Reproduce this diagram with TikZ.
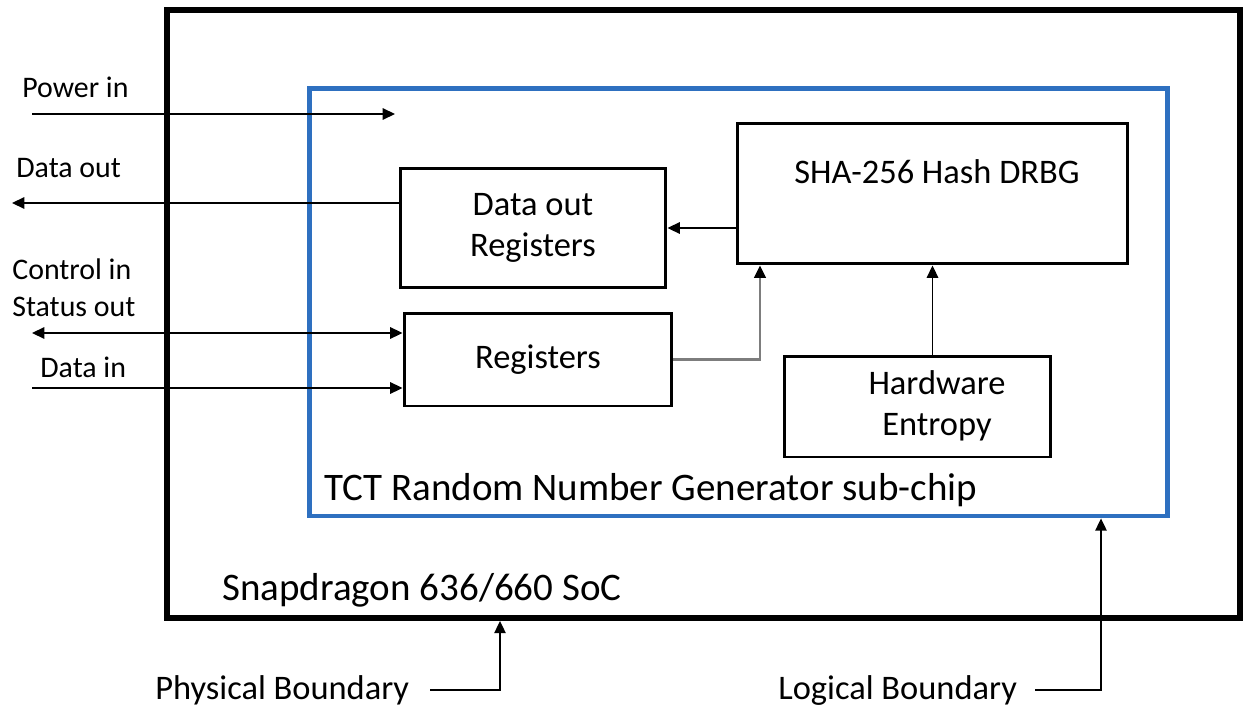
\documentclass[tikz,border=0pt]{standalone}
\usepackage{fontspec}
\setmainfont{Carlito}
\usetikzlibrary{arrows.meta}
\definecolor{chipblue}{RGB}{46,112,192}
\definecolor{linkgray}{RGB}{125,125,125}
\begin{document}
\begin{tikzpicture}
    [%%%%%%%%%%%%%%%%%%%%%%%%%%%%%%
        x=0.02cm, y=-0.02cm,
        box/.style={rectangle,draw=black,line width=1.7pt,inner sep=0pt,align=center,font=\fontsize{19.6}{23}\selectfont},
        txt/.style={inner sep=0pt,align=center,font=\fontsize{19.6}{23}\selectfont},
        lbl/.style={inner sep=0pt,anchor=base west,align=left,font=\fontsize{17}{21}\selectfont},
        big/.style={inner sep=0pt,anchor=base west,font=\fontsize{22.2}{26}\selectfont},
        sig/.style={draw=black,line width=0.9pt,-{Triangle[length=7pt,width=6.5pt,black]}},
    ]%%%%%%%%%%%%%%%%%%%%%%%%%%%%%%
\useasboundingbox (0,0) rectangle (1244,713);
% boundaries
\node[draw=black, line width=3.4pt, minimum width=21.46cm, minimum height=12.16cm] (soc) at (703.5,314) {};
\node[draw=chipblue, line width=2.8pt, minimum width=17.18cm, minimum height=8.56cm] (rng) at (738.5,302) {};
\node[big] (soctxt) at (222,600) {Snapdragon 636/660 SoC};
\node[big] (rngtxt) at (324,500) {TCT Random Number Generator sub-chip};
% blocks
\node[box, minimum width=5.32cm, minimum height=2.4cm] (dataout) at (533,228) {Data out\\Registers};
\node[box, minimum width=7.82cm, minimum height=2.82cm] (sha) at (932.5,193.5) {};
\node[txt] (shatxt) at (937,172) {SHA-256 Hash DRBG};
\node[box, minimum width=5.36cm, minimum height=1.86cm] (regs) at (538,359.5) {Registers};
\node[box, minimum width=5.34cm, minimum height=2.02cm] (entropy) at (917.5,406.5) {};
\node[txt] (enttxt) at (937,406) {Hardware\\Entropy};
% outside signals
\node[lbl] (pwrlbl) at (22,98) {Power in};
\node[lbl] (doutlbl) at (16,177) {Data out};
\node[lbl] (ctllbl) at (12,316) {Control in\\Status out};
\node[lbl] (dinlbl) at (40,377) {Data in};
\coordinate (pin) at (32,114);
\coordinate (pend) at (395,114);
\coordinate (dout) at (12,203);
\coordinate (ctl) at (32,333);
\coordinate (din) at (32,388);
\draw[sig] (pin) -- (pend);
\draw[sig] (dataout.west |- dout) -- (dout);
\draw[sig, {Triangle[length=7pt,width=6.5pt]}-{Triangle[length=7pt,width=6.5pt]}] (ctl) -- (regs.west |- ctl);
\draw[sig] (din) -- (regs.west |- din);
% inside links
\coordinate (tap) at (760,0);
\draw[sig] (sha.west |- dataout.east) -- (dataout.east);
\draw[sig, draw=linkgray, line width=1.3pt] (regs.east) -| (tap |- sha.south);
\draw[sig] (sha.south |- entropy.north) -- (sha.south);
% boundary labels
\node[big, font=\fontsize{19.6}{23}\selectfont] (phys) at (155,699) {Physical Boundary};
\node[big, font=\fontsize{19.6}{23}\selectfont] (logi) at (778,699) {Logical Boundary};
\coordinate (pb) at (500,690);
\coordinate (lb) at (1101,690);
\draw[sig] (430,690) -- (pb) -- (pb |- soc.south);
\draw[sig] (1035,690) -- (lb) -- (lb |- rng.south);
\end{tikzpicture}
\end{document}
